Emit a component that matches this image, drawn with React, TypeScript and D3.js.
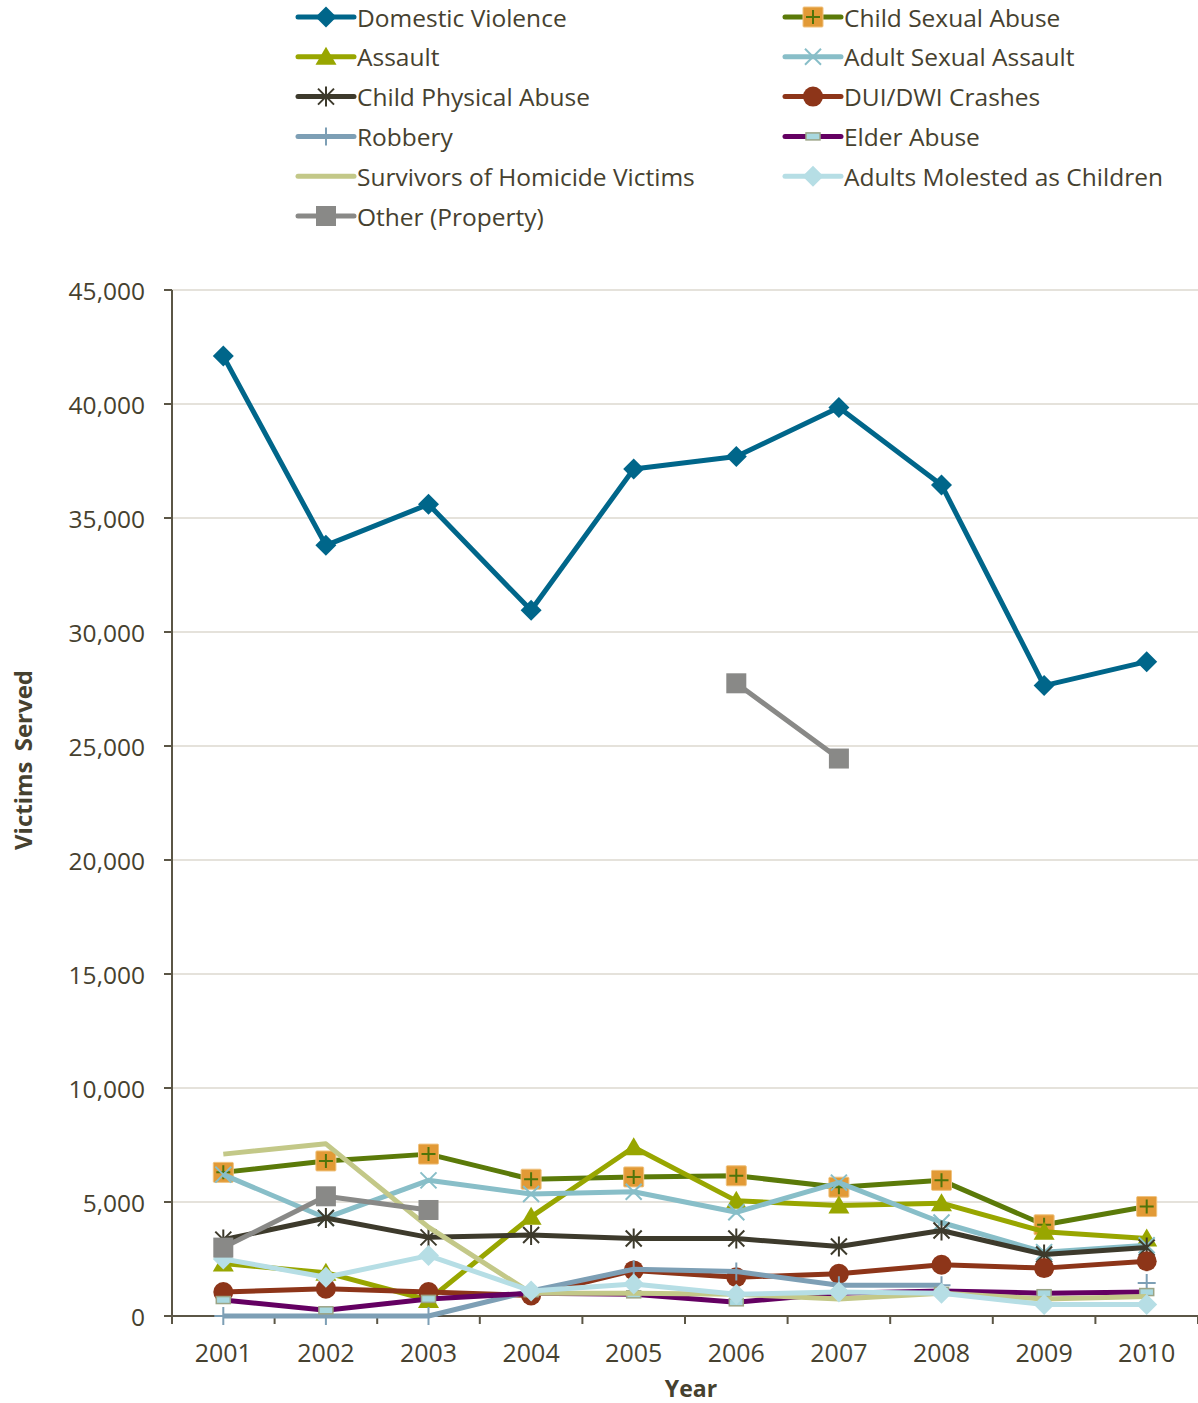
import React from "react";
import * as d3 from "d3";

// Victims served by crime type, 2001–2010
const years = ["2001", "2002", "2003", "2004", "2005", "2006", "2007", "2008", "2009", "2010"];

const domesticViolence = [42100, 33800, 35600, 30950, 37150, 37700, 39850, 36450, 27650, 28700];
const childSexualAbuse = [6300, 6800, 7100, 6000, 6100, 6150, 5650, 5950, 4000, 4800];
const assault = [2300, 1900, 700, 4350, 7400, 5050, 4850, 4950, 3700, 3400];
const adultSexualAssault = [6200, 4300, 5950, 5350, 5450, 4550, 5850, 4100, 2800, 3100];
const childPhysicalAbuse = [3350, 4300, 3450, 3550, 3400, 3400, 3050, 3750, 2700, 3000];
const duiDwiCrashes = [1050, 1200, 1050, 900, 2000, 1700, 1850, 2250, 2100, 2400];
const robbery: (number | null)[] = [0, 0, 0, 1100, 2050, 1950, 1350, 1350, null, 1450];
const elderAbuse = [700, 250, 750, 1000, 950, 600, 1000, 1100, 1000, 1050];
const survivorsOfHomicide = [7100, 7550, 3900, 1000, 1000, 950, 750, 1000, 750, 850];
const adultsMolested = [2500, 1700, 2650, 1100, 1400, 950, 1050, 1000, 500, 500];
const otherProperty: (number | null)[] = [3000, 5250, 4650, null, null, 27750, 24450, null, null, null];

const yTicks = [0, 5000, 10000, 15000, 20000, 25000, 30000, 35000, 40000, 45000];

type MarkerKind =
  | "diamond"
  | "squarePlus"
  | "triangle"
  | "cross"
  | "star"
  | "circle"
  | "plus"
  | "dash"
  | "none"
  | "square";

interface Series {
  name: string;
  values: (number | null)[];
  color: string;
  marker: MarkerKind;
}

const series: Series[] = [
  { name: "Domestic Violence", values: domesticViolence, color: "#00668a", marker: "diamond" },
  { name: "Child Sexual Abuse", values: childSexualAbuse, color: "#5b7a09", marker: "squarePlus" },
  { name: "Assault", values: assault, color: "#98a600", marker: "triangle" },
  { name: "Adult Sexual Assault", values: adultSexualAssault, color: "#88bec8", marker: "cross" },
  { name: "Child Physical Abuse", values: childPhysicalAbuse, color: "#3d3a2c", marker: "star" },
  { name: "DUI/DWI Crashes", values: duiDwiCrashes, color: "#8d3519", marker: "circle" },
  { name: "Robbery", values: robbery, color: "#7d9fb5", marker: "plus" },
  { name: "Elder Abuse", values: elderAbuse, color: "#640062", marker: "dash" },
  { name: "Survivors of Homicide Victims", values: survivorsOfHomicide, color: "#c3c888", marker: "none" },
  { name: "Adults Molested as Children", values: adultsMolested, color: "#b6dee5", marker: "diamond" },
  { name: "Other (Property)", values: otherProperty, color: "#898987", marker: "square" },
];

const W = 1198;
const H = 1403;
const margin = { left: 172, right: 0, top: 290, bottom: 87 };
const FONT = "'Open Sans', 'Noto Sans', sans-serif";
const TEXT = "#46412f";

function Marker({ kind, x, y, color }: { kind: MarkerKind; x: number; y: number; color: string }) {
  switch (kind) {
    case "diamond":
      return <path d={`M${x},${y - 10.5}L${x + 10.5},${y}L${x},${y + 10.5}L${x - 10.5},${y}Z`} fill={color} />;
    case "squarePlus":
      return (
        <g>
          <rect x={x - 10} y={y - 10} width={20} height={20} fill="#e29a36" stroke="#f0c27e" strokeWidth={1} rx={1} />
          <path d={`M${x - 7},${y}H${x + 7}M${x},${y - 7}V${y + 7}`} stroke="#4f740a" strokeWidth={2} />
        </g>
      );
    case "triangle":
      return <path d={`M${x},${y - 10}L${x + 10.5},${y + 8}L${x - 10.5},${y + 8}Z`} fill={color} />;
    case "cross":
      return (
        <path
          d={`M${x - 8},${y - 8}L${x + 8},${y + 8}M${x + 8},${y - 8}L${x - 8},${y + 8}`}
          stroke={color}
          strokeWidth={2}
        />
      );
    case "star":
      return (
        <path
          d={`M${x - 8},${y - 8}L${x + 8},${y + 8}M${x + 8},${y - 8}L${x - 8},${y + 8}M${x},${y - 10}V${y + 10}`}
          stroke={color}
          strokeWidth={2}
        />
      );
    case "circle":
      return <circle cx={x} cy={y} r={10} fill={color} />;
    case "plus":
      return <path d={`M${x - 9},${y}H${x + 9}M${x},${y - 9}V${y + 9}`} stroke={color} strokeWidth={2} />;
    case "dash":
      return <rect x={x - 7} y={y - 3.5} width={14} height={7} fill="#a8d8df" stroke="#9ba486" strokeWidth={1.5} />;
    case "square":
      return <rect x={x - 10} y={y - 10} width={20} height={20} fill={color} />;
    default:
      return null;
  }
}

export default function App() {
  const x = d3
    .scaleBand<string>()
    .domain(years)
    .range([margin.left, W - margin.right])
    .paddingInner(0)
    .paddingOuter(0);
  const y = d3.scaleLinear().domain([0, 45000]).range([H - margin.bottom, margin.top]);
  const cx = (yr: string) => (x(yr) ?? 0) + x.bandwidth() / 2;

  const line = d3
    .line<number | null>()
    .defined((d) => d !== null)
    .x((_, i) => cx(years[i]))
    .y((d) => y(d as number));

  const fmt = d3.format(",");
  const plotBottom = H - margin.bottom;
  const boundaries = years.map((yr) => x(yr) ?? 0).concat([W - margin.right]);

  // legend layout: two columns, six rows
  const legendCols = [298, 785];
  const legendRow0 = 17;
  const legendRowStep = 39.8;

  return (
    <svg
      width={W}
      height={H}
      style={{ position: "absolute", left: 0, top: 0, background: "#ffffff" }}
      fontFamily={FONT}
    >
      {/* gridlines */}
      {yTicks.map((t) => (
        <line key={`g${t}`} x1={margin.left} x2={W} y1={y(t)} y2={y(t)} stroke="#dcd8cf" strokeWidth={1.5} />
      ))}

      {/* y axis */}
      <line x1={margin.left} x2={margin.left} y1={margin.top} y2={plotBottom} stroke="#5b5646" strokeWidth={2} />
      {yTicks.map((t) => (
        <g key={`yt${t}`}>
          <line x1={margin.left - 8} x2={margin.left} y1={y(t)} y2={y(t)} stroke="#5b5646" strokeWidth={2} />
          <text
            x={145}
            y={y(t)}
            textAnchor="end"
            dominantBaseline="central"
            fontSize={24.5}
            fill={TEXT}
          >
            {fmt(t)}
          </text>
        </g>
      ))}

      {/* x axis */}
      <line x1={margin.left} x2={W} y1={plotBottom} y2={plotBottom} stroke="#5b5646" strokeWidth={2} />
      {boundaries.map((b, i) => (
        <line key={`xt${i}`} x1={b} x2={b} y1={plotBottom} y2={plotBottom + 8} stroke="#5b5646" strokeWidth={2} />
      ))}
      {years.map((yr) => (
        <text key={`xl${yr}`} x={cx(yr)} y={1352} textAnchor="middle" dominantBaseline="central" fontSize={25} fill={TEXT}>
          {yr}
        </text>
      ))}

      {/* axis titles */}
      <text
        transform={`translate(22,760) rotate(-90)`}
        textAnchor="middle"
        dominantBaseline="central"
        fontSize={24}
        fontWeight="bold"
        fill={TEXT}
        wordSpacing={4}
      >
        Victims Served
      </text>
      <text x={691} y={1397} textAnchor="middle" fontSize={23} fontWeight="bold" fill={TEXT}>
        Year
      </text>

      {/* series */}
      {series.map((s) => (
        <g key={s.name}>
          <path d={line(s.values) ?? ""} fill="none" stroke={s.color} strokeWidth={5} strokeLinejoin="round" />
          {s.values.map((v, i) =>
            v === null ? null : <Marker key={i} kind={s.marker} x={cx(years[i])} y={y(v)} color={s.color} />
          )}
        </g>
      ))}

      {/* legend */}
      {series.map((s, i) => {
        const col = i % 2;
        const row = Math.floor(i / 2);
        const lx = legendCols[col];
        const ly = legendRow0 + row * legendRowStep;
        return (
          <g key={`lg${s.name}`}>
            <line x1={lx} x2={lx + 56} y1={ly} y2={ly} stroke={s.color} strokeWidth={5} strokeLinecap="round" />
            <Marker kind={s.marker} x={lx + 28} y={ly} color={s.color} />
            <text x={lx + 59} y={ly} dominantBaseline="central" fontSize={24.5} fill={TEXT}>
              {s.name}
            </text>
          </g>
        );
      })}
    </svg>
  );
}
